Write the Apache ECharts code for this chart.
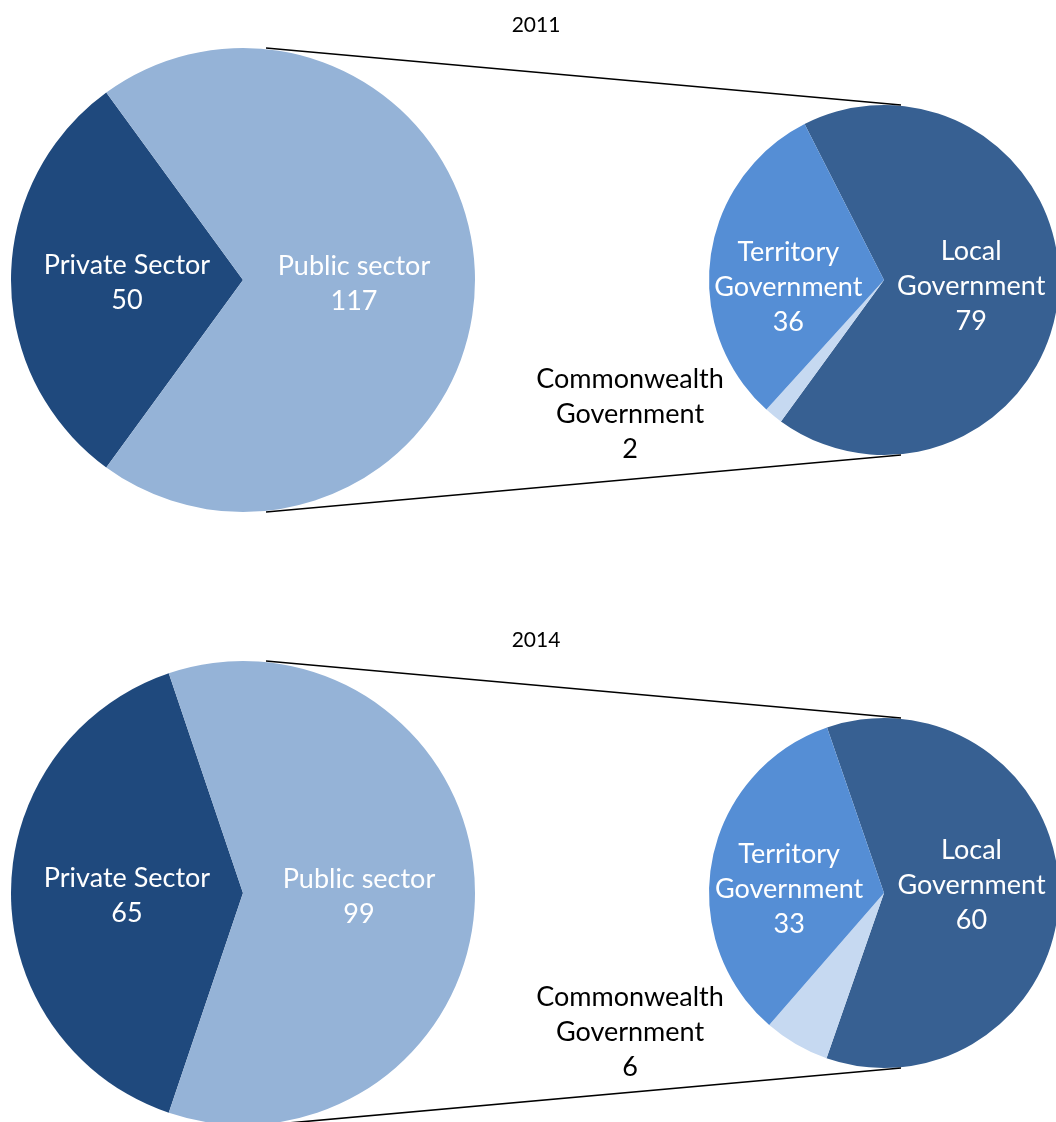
<!DOCTYPE html>
<html>
<head>
<meta charset="utf-8">
<script src="https://cdn.jsdelivr.net/npm/echarts@6/dist/echarts.min.js"></script>
<style>
  html, body { margin: 0; padding: 0; background: #fff; }
  #chart { width: 1056px; height: 1122px; }
</style>
</head>
<body>
<div id="chart"></div>
<script>
// data
const years = ["2011", "2014"];
const mainNames = ["Private Sector", "Public sector"];
const main2011 = [50, 117];
const main2014 = [65, 99];
const subNames = ["Local Government", "Commonwealth Government", "Territory Government"];
const sub2011 = [79, 2, 36];
const sub2014 = [60, 6, 33];

const mainColors = ["#1F497D", "#95B3D7"];
const subColors = ["#376092", "#C6D9F1", "#558ED5"];

const FONT = "Lato";
const FONT_SIZE = 27;
const BIG_R = 232, SMALL_R = 175;
const BIG_X = 243, SMALL_X = 884;
const ROW_Y = [280, 893];
const TITLE_Y = [10, 625];

function bigStart(vals) {
  // private sector slice centred on the left side
  const a = vals[0] / (vals[0] + vals[1]) * 360;
  return 180 + a / 2;
}

function lbl(name, value) {
  return name.replace(" Government", "\nGovernment") + "\n" + value;
}

const labelStyle = {
  position: "inside",
  color: "#fff",
  fontFamily: FONT,
  fontSize: FONT_SIZE,
  lineHeight: 35,
  formatter: function(p) { return lbl(p.name, p.value); }
};

let series = [];
let graphics = [];
let titles = [];
[[main2011, sub2011], [main2014, sub2014]].forEach(function(pair, i) {
  let cy = ROW_Y[i];
  titles.push({
    text: years[i],
    left: 531,
    top: TITLE_Y[i],
    textAlign: "center",
    textStyle: { fontFamily: FONT, fontSize: 21, fontWeight: "normal", color: "#000" }
  });
  series.push({
    type: "pie",
    center: [BIG_X, cy],
    radius: [0, BIG_R],
    startAngle: bigStart(pair[0]),
    clockwise: true,
    avoidLabelOverlap: false,
    animation: false,
    label: labelStyle,
    labelLine: { show: false },
    labelLayout: function(p) {
      if (p.dataIndex === 0) return { dx: 3, dy: 3 };
      return { dx: i === 0 ? -8 : -3, dy: 4 };
    },
    data: pair[0].map((v, k) => ({ name: mainNames[k], value: v, itemStyle: { color: mainColors[k] } }))
  });
  series.push({
    type: "pie",
    center: [SMALL_X, cy],
    radius: [0, SMALL_R],
    startAngle: i === 0 ? 117 : 109,
    clockwise: true,
    avoidLabelOverlap: false,
    animation: false,
    label: labelStyle,
    labelLine: { show: false },
    labelLayout: function(p) {
      if (p.dataIndex === 1) {
        return { x: 630, y: cy + (i === 0 ? 134 : 139), align: "center", verticalAlign: "middle" };
      }
      if (p.dataIndex === 2) {
        return { dx: -6, dy: i === 0 ? 19 : 14 };
      }
      return { dx: -3, dy: i === 0 ? -1 : -8 };
    },
    data: pair[1].map((v, k) => ({
      name: subNames[k],
      value: v,
      itemStyle: { color: subColors[k] },
      label: k === 1 ? { color: "#000" } : undefined
    }))
  });
  // connector lines between the two pies
  graphics.push({
    type: "line",
    shape: { x1: BIG_X + 23, y1: cy - BIG_R, x2: SMALL_X + 17, y2: cy - SMALL_R },
    style: { stroke: "#000", lineWidth: 1.6 },
    z: 10
  });
  graphics.push({
    type: "line",
    shape: { x1: BIG_X + 23, y1: cy + BIG_R, x2: SMALL_X + 17, y2: cy + SMALL_R },
    style: { stroke: "#000", lineWidth: 1.6 },
    z: 10
  });
});

let myChart = echarts.init(document.getElementById("chart"));
myChart.setOption({
  animation: false,
  title: titles,
  tooltip: { show: false },
  graphic: graphics,
  series: series
});
</script>
</body>
</html>
